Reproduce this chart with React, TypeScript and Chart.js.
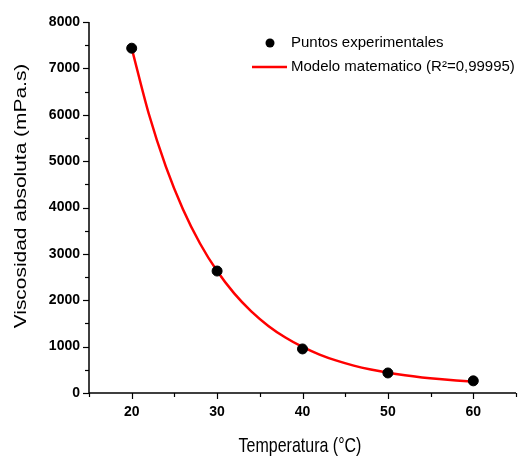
import React, { useEffect, useRef } from "react";
import { Chart, registerables } from "chart.js";

Chart.register(...registerables);

// Experimental points
const tempPoints = [20, 30, 40, 50, 60];
const viscPoints = [7435, 2630, 950, 432, 262];

// Fitted model curve
const tempCurve = [20, 22, 24, 26, 28, 30, 32, 34, 36, 38, 40, 42, 44, 46, 48, 50, 52, 54, 56, 58, 60];
const viscCurve = [7435, 6021, 4883, 3964, 3224, 2629, 2147, 1760, 1447, 1196, 993, 829, 697, 591, 506, 437, 381, 336, 300, 271, 248];

const xTicks = [20, 30, 40, 50, 60];
const yTicks = [0, 1000, 2000, 3000, 4000, 5000, 6000, 7000, 8000];

const pointLabel = "Puntos experimentales";
const curveLabel = "Modelo matematico (R²=0,99995)";
const xTitle = "Temperatura (°C)";
const yTitle = "Viscosidad absoluta (mPa.s)";

const FONT = "'Liberation Sans', Arial, sans-serif";

const decorPlugin = {
  id: "decor",
  afterDraw(chart: any) {
    const ctx = chart.ctx as CanvasRenderingContext2D;
    const area = chart.chartArea;
    const xs = chart.scales.x;
    const ys = chart.scales.y;
    ctx.save();
    ctx.strokeStyle = "#000";
    ctx.lineWidth = 1.5;
    // axis lines
    ctx.beginPath();
    ctx.moveTo(area.left, area.top);
    ctx.lineTo(area.left, area.bottom);
    ctx.lineTo(area.right, area.bottom);
    ctx.stroke();
    ctx.lineWidth = 1.2;
    // y ticks
    for (let v = 0; v <= 8000; v += 500) {
      const y = Math.round(ys.getPixelForValue(v)) + 0.5;
      const len = v % 1000 === 0 ? 6 : 4;
      ctx.beginPath();
      ctx.moveTo(area.left - len, y);
      ctx.lineTo(area.left, y);
      ctx.stroke();
    }
    // x ticks
    for (let v = 15; v <= 65; v += 5) {
      const x = Math.round(xs.getPixelForValue(v)) + 0.5;
      const len = v % 10 === 0 ? 6 : 4;
      ctx.beginPath();
      ctx.moveTo(x, area.bottom);
      ctx.lineTo(x, area.bottom + len);
      ctx.stroke();
    }
    // titles
    ctx.fillStyle = "#000";
    ctx.font = `16px ${FONT}`;
    ctx.textAlign = "center";
    ctx.textBaseline = "middle";
    ctx.save();
    ctx.translate(300, 446);
    ctx.scale(1, 1.3);
    ctx.fillText(xTitle, 0, 0);
    ctx.restore();
    ctx.save();
    ctx.font = `17px ${FONT}`;
    ctx.translate(21, 196);
    ctx.rotate(-Math.PI / 2);
    ctx.scale(1.23, 1);
    ctx.fillText(yTitle, 0, 0);
    ctx.restore();
    // legend
    const ds = chart.data.datasets;
    ctx.font = `15px ${FONT}`;
    ctx.textAlign = "left";
    ctx.beginPath();
    ctx.fillStyle = ds[0].backgroundColor;
    ctx.arc(270, 43, 4.5, 0, Math.PI * 2);
    ctx.fill();
    ctx.fillStyle = "#000";
    ctx.fillText(ds[0].label, 291, 43);
    ctx.strokeStyle = ds[1].borderColor;
    ctx.lineWidth = 2.5;
    ctx.beginPath();
    ctx.moveTo(252, 67);
    ctx.lineTo(287, 67);
    ctx.stroke();
    ctx.fillText(ds[1].label, 291, 67);
    ctx.restore();
  },
};

export default function App() {
  const ref = useRef<HTMLCanvasElement>(null);
  useEffect(() => {
    const chart = new Chart(ref.current!, {
      type: "scatter",
      data: {
        datasets: [
          {
            label: pointLabel,
            data: tempPoints.map((t, i) => ({ x: t, y: viscPoints[i] })),
            backgroundColor: "#000",
            borderColor: "#000",
            pointRadius: 5,
            pointHoverRadius: 5,
            showLine: false,
            order: 0,
          },
          {
            type: "line",
            label: curveLabel,
            data: tempCurve.map((t, i) => ({ x: t, y: viscCurve[i] })),
            borderColor: "#ff0000",
            backgroundColor: "#ff0000",
            borderWidth: 2.5,
            pointRadius: 0,
            showLine: true,
            cubicInterpolationMode: "monotone",
            fill: false,
            order: 1,
          } as any,
        ],
      },
      options: {
        responsive: false,
        animation: false,
        devicePixelRatio: 1,
        layout: { padding: { left: 0, top: 22, right: 4, bottom: 0 } },
        plugins: { legend: { display: false }, tooltip: { enabled: false } },
        scales: {
          x: {
            type: "linear",
            min: 15,
            max: 65,
            afterFit: (s: any) => {
              s.height = 64;
            },
            afterBuildTicks: (s: any) => {
              s.ticks = xTicks.map((v) => ({ value: v }));
            },
            grid: { display: false, drawTicks: false },
            border: { display: false },
            ticks: {
              autoSkip: false,
              maxRotation: 0,
              padding: 11,
              color: "#000",
              font: { family: FONT, size: 14, weight: "bold" },
              callback: (v: any) => String(v),
            },
          },
          y: {
            type: "linear",
            min: 0,
            max: 8000,
            afterFit: (s: any) => {
              s.width = 89;
            },
            afterBuildTicks: (s: any) => {
              s.ticks = yTicks.map((v) => ({ value: v }));
            },
            grid: { display: false, drawTicks: false },
            border: { display: false },
            ticks: {
              autoSkip: false,
              padding: 9,
              color: "#000",
              font: { family: FONT, size: 14, weight: "bold" },
              callback: (v: any) => String(v),
            },
          },
        },
      },
      plugins: [decorPlugin],
    });
    return () => chart.destroy();
  }, []);
  return (
    <div style={{ position: "fixed", left: 0, top: 0, width: 522, height: 457, background: "#fff" }}>
      <canvas ref={ref} width={522} height={457} />
    </div>
  );
}
